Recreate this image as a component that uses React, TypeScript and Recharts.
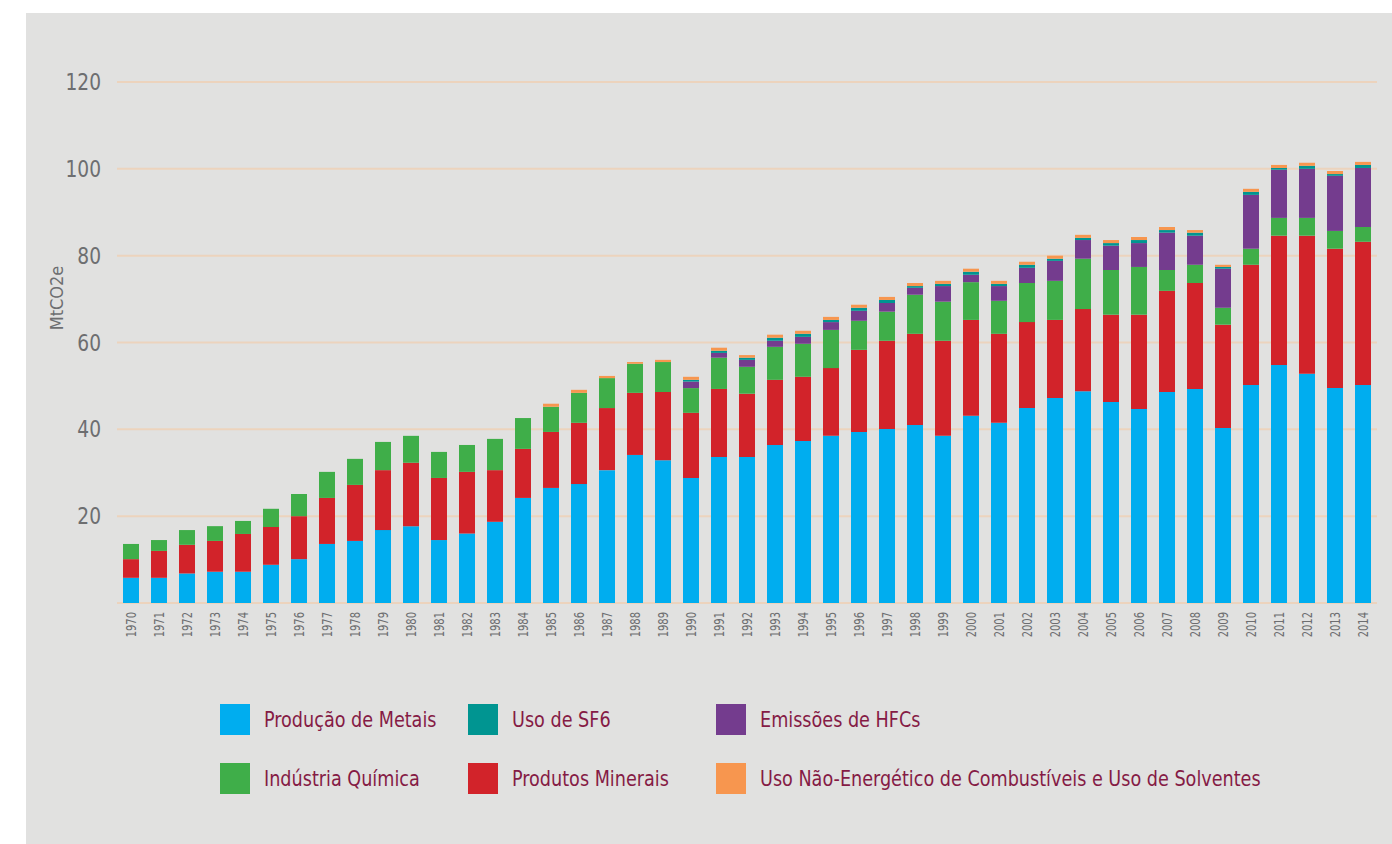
import { Bar, BarChart, CartesianGrid, XAxis, YAxis } from "recharts";

const years = [
  1970, 1971, 1972, 1973, 1974, 1975, 1976, 1977, 1978, 1979, 1980, 1981, 1982,
  1983, 1984, 1985, 1986, 1987, 1988, 1989, 1990, 1991, 1992, 1993, 1994, 1995,
  1996, 1997, 1998, 1999, 2000, 2001, 2002, 2003, 2004, 2005, 2006, 2007, 2008,
  2009, 2010, 2011, 2012, 2013, 2014,
];

const metais = [
  5.8, 5.8, 6.8, 7.2, 7.2, 8.8, 10.1, 13.6, 14.3, 16.8, 17.7, 14.5, 16.0, 18.7,
  24.2, 26.5, 27.4, 30.6, 34.1, 32.9, 28.8, 33.6, 33.6, 36.4, 37.3, 38.5, 39.4,
  40.1, 41.0, 38.5, 43.1, 41.5, 44.9, 47.2, 48.8, 46.3, 44.7, 48.6, 49.3, 40.3,
  50.2, 54.8, 52.8, 49.5, 50.2,
];

const minerais = [
  4.3, 6.2, 6.6, 7.1, 8.7, 8.7, 9.9, 10.6, 12.9, 13.8, 14.6, 14.3, 14.2, 11.9,
  11.3, 12.9, 14.1, 14.3, 14.3, 15.7, 15.0, 15.7, 14.6, 15.0, 14.8, 15.6, 18.9,
  20.3, 21.0, 21.9, 22.1, 20.5, 19.8, 18.0, 18.9, 20.1, 21.7, 23.3, 24.4, 23.8,
  27.7, 29.8, 31.8, 32.1, 33.0,
];

const quimica = [
  3.5, 2.5, 3.4, 3.4, 3.0, 4.2, 5.1, 6.0, 6.0, 6.5, 6.2, 6.0, 6.2, 7.2, 7.1, 5.8,
  6.9, 6.9, 6.7, 6.9, 5.7, 7.2, 6.2, 7.6, 7.6, 8.8, 6.7, 6.7, 9.0, 9.0, 8.7, 7.6,
  9.0, 9.0, 11.6, 10.3, 11.0, 4.8, 4.2, 3.9, 3.7, 4.1, 4.1, 4.1, 3.4,
];

const hfcs = [
  0, 0, 0, 0, 0, 0, 0, 0, 0, 0, 0, 0, 0, 0, 0, 0, 0, 0, 0, 0, 1.5, 1.1, 1.6, 1.4,
  1.6, 1.8, 2.3, 2.0, 1.6, 3.6, 1.7, 3.4, 3.5, 4.6, 4.3, 5.6, 5.5, 8.6, 6.7, 9.0,
  12.4, 11.1, 11.3, 12.7, 13.6,
];

const sf6 = [
  0, 0, 0, 0, 0, 0, 0, 0, 0, 0, 0, 0, 0, 0, 0, 0, 0, 0, 0, 0, 0.4, 0.5, 0.5, 0.7,
  0.7, 0.5, 0.7, 0.7, 0.4, 0.5, 0.7, 0.5, 0.7, 0.5, 0.5, 0.6, 0.7, 0.6, 0.7, 0.4,
  0.7, 0.4, 0.7, 0.4, 0.7,
];

const solventes = [
  0, 0, 0, 0, 0, 0, 0, 0, 0, 0, 0, 0, 0, 0, 0, 0.7, 0.7, 0.5, 0.4, 0.5, 0.7, 0.7,
  0.6, 0.7, 0.7, 0.7, 0.7, 0.7, 0.7, 0.7, 0.7, 0.7, 0.7, 0.7, 0.7, 0.7, 0.7, 0.7,
  0.6, 0.5, 0.7, 0.7, 0.7, 0.7, 0.7,
];

const yTicks = [0, 20, 40, 60, 80, 100, 120];

// stacking order, bottom to top
const series = [
  { key: "metais", name: "Produção de Metais", color: "#00adef" },
  { key: "minerais", name: "Produtos Minerais", color: "#d2232a" },
  { key: "quimica", name: "Indústria Química", color: "#3fae49" },
  { key: "hfcs", name: "Emissões de HFCs", color: "#743c8e" },
  { key: "sf6", name: "Uso de SF6", color: "#009591" },
  {
    key: "solventes",
    name: "Uso Não-Energético de Combustíveis e Uso de Solventes",
    color: "#f7964f",
  },
];

// legend grid: rows of keys
const legendRows = [
  ["metais", "sf6", "hfcs"],
  ["quimica", "minerais", "solventes"],
];

const data = years.map((year, i) => ({
  year: String(year),
  metais: metais[i],
  minerais: minerais[i],
  quimica: quimica[i],
  hfcs: hfcs[i],
  sf6: sf6[i],
  solventes: solventes[i],
}));

const FONT = '"DejaVu Sans Condensed", "Liberation Sans", Arial, sans-serif';
const GREY = "#6d6e70";

function YearTick({ x, y, payload }: any) {
  return (
    <text
      transform={`translate(${x},${y + 1}) rotate(-90) scale(0.82,1)`}
      textAnchor="end"
      dy="0.35em"
      fontSize={13.5}
      fill={GREY}
      fontFamily={FONT}
    >
      {payload.value}
    </text>
  );
}

function ValueTick({ x, y, payload }: any) {
  if (payload.value === 0) return null;
  return (
    <text
      transform={`translate(${x},${y}) scale(0.9,1)`}
      textAnchor="end"
      dy="0.35em"
      fontSize={23}
      fill={GREY}
      fontFamily={FONT}
    >
      {payload.value}
    </text>
  );
}

function UnitLabel() {
  return (
    <text
      transform="translate(31,285) rotate(-90)"
      textAnchor="middle"
      dy="0.35em"
      fontSize={18}
      fill={GREY}
      fontFamily={FONT}
    >
      MtCO2e
    </text>
  );
}

export default function App() {
  const colOffsets = [194, 442, 690];
  const rowOffsets = [691, 750];
  return (
    <div
      style={{
        position: "fixed",
        left: 26,
        top: 13,
        width: 1366,
        height: 831,
        background: "#e1e1e0",
        fontFamily: FONT,
      }}
    >
      <BarChart
        width={1366}
        height={660}
        data={data}
        margin={{ top: 69, right: 15, left: 0, bottom: 10 }}
        barSize={16}
      >
        <CartesianGrid vertical={false} stroke="#ecd3bd" strokeWidth={2} />
        <XAxis
          dataKey="year"
          interval={0}
          axisLine={false}
          tickLine={false}
          height={60}
          tick={<YearTick />}
        />
        <YAxis
          domain={[0, 120]}
          ticks={yTicks}
          width={91}
          axisLine={false}
          tickLine={false}
          tickMargin={10}
          tick={<ValueTick />}
          label={<UnitLabel />}
        />
        {series.map((s) => (
          <Bar
            key={s.key}
            dataKey={s.key}
            name={s.name}
            stackId="a"
            fill={s.color}
            isAnimationActive={false}
          />
        ))}
      </BarChart>
      {legendRows.map((row, r) =>
        row.map((key, c) => {
          const s = series.find((q) => q.key === key)!;
          return (
            <div
              key={key}
              style={{
                position: "absolute",
                left: colOffsets[c],
                top: rowOffsets[r],
                display: "flex",
                alignItems: "center",
                height: 31,
                whiteSpace: "nowrap",
              }}
            >
              <div style={{ width: 30, height: 31, background: s.color }} />
              <span
                style={{
                  marginLeft: 14,
                  fontSize: 22,
                  color: "#851b45",
                  display: "inline-block",
                  transform: "scaleX(0.89)",
                  transformOrigin: "left center",
                }}
              >
                {s.name}
              </span>
            </div>
          );
        })
      )}
    </div>
  );
}
